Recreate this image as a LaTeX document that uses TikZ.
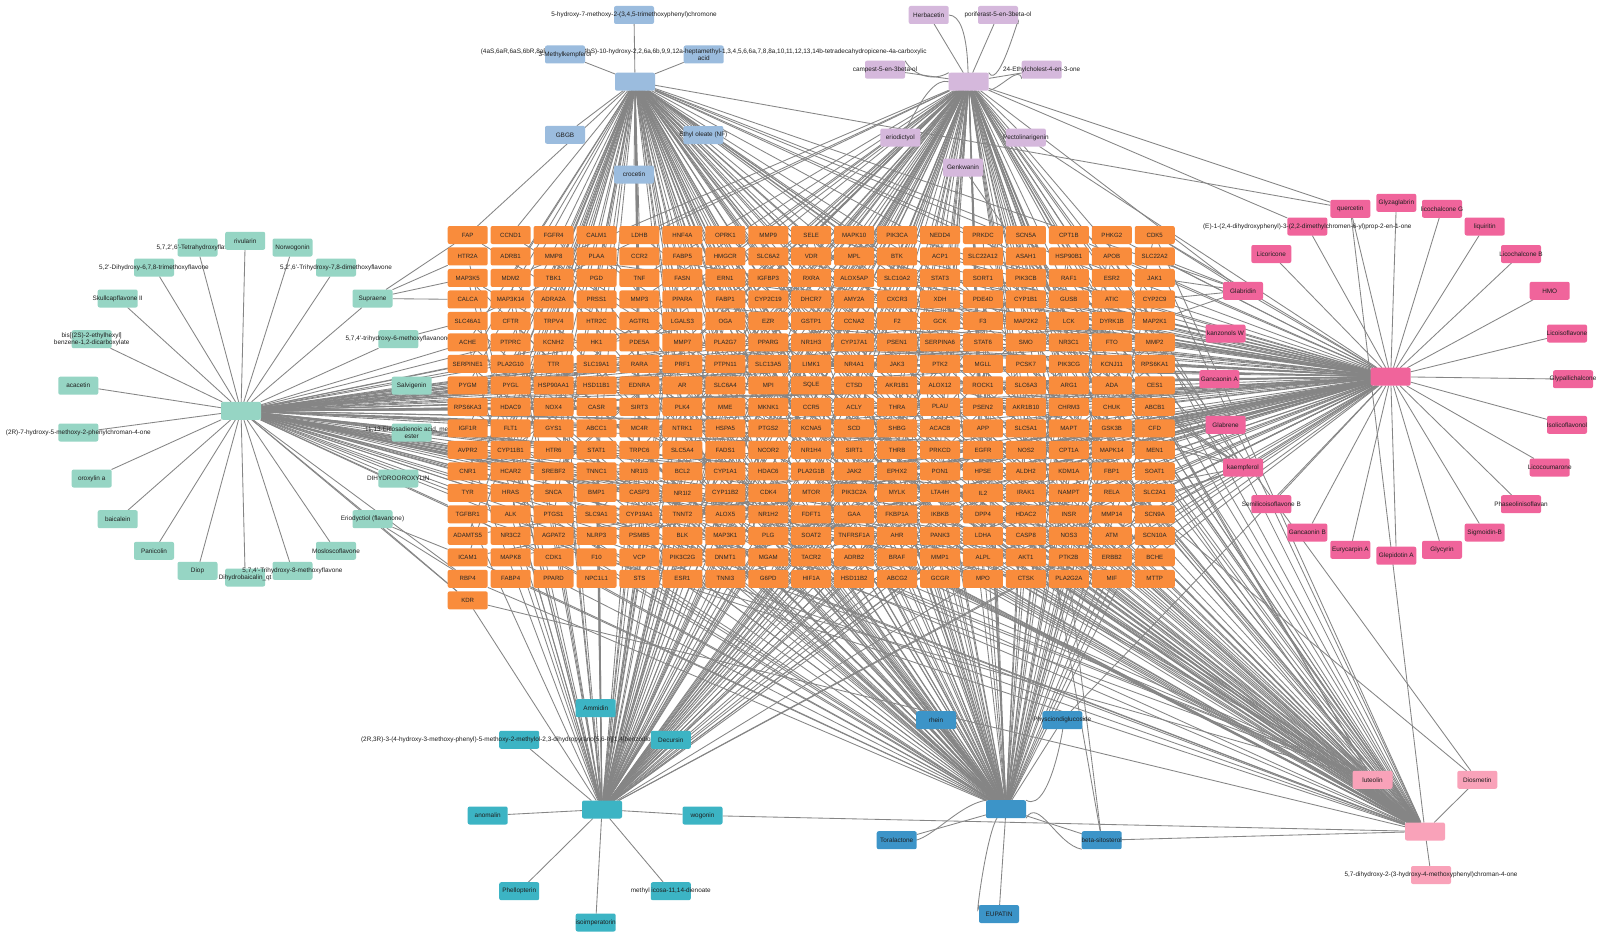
\documentclass[tikz,border=0pt]{standalone}
\usepackage{fontspec}
\setmainfont{Liberation Sans}
\pgfdeclarelayer{edges}
\pgfsetlayers{edges,main}
\definecolor{cOr}{HTML}{F98C3C}
\definecolor{cBlT}{HTML}{9BBCDE}
\definecolor{cPu}{HTML}{D5B8DC}
\definecolor{cGr}{HTML}{96D5C4}
\definecolor{cPk}{HTML}{F0649B}
\definecolor{cTe}{HTML}{3CB4C4}
\definecolor{cBlB}{HTML}{3C94C8}
\definecolor{cLp}{HTML}{F9A2B9}
\definecolor{cEd}{HTML}{858585}
\tikzset{
  bx/.style={draw=none,rounded corners=2pt,minimum width=40pt,minimum height=18pt,inner sep=0pt,outer sep=0pt},
  tx/.style={inner sep=0pt,font=\fontsize{6.4}{7.4}\selectfont,text=black!88,align=center},
  gbx/.style={bx,fill=cOr,font=\fontsize{6.1}{7}\selectfont,text=black!85},
  edge/.style={draw=cEd,line width=0.85pt},
}
\newcommand\cmp[5]{%
  \node[bx,fill=#4] (#1) at (#2,#3) {};
  \node[tx] at (#2,#3) {#5};}
\newcommand\fan[3]{%
  \pgfmathsetseed{#2}%
  \foreach \k in {0,...,289}{%
    \pgfmathtruncatemacro\gRow{(\k+0.5)/17}%
    \pgfmathtruncatemacro\gCol{\k-17*\gRow}%
    \pgfmathtruncatemacro\gOk{(rnd<(#3))?1:0}%
    \ifnum\gOk=1 \draw[edge] (#1) -- (g\k);\fi
  }%
}
\begin{document}
\begin{tikzpicture}[x=1pt,y=-1pt]
\useasboundingbox (0,0) rectangle (1600,942);
\begin{pgfonlayer}{edges}
\fill[white] (0,0) rectangle (1600,942);
\end{pgfonlayer}

% ---------- green cluster ----------
\node[bx,fill=cGr] (hG) at (241,410.8) {};
\cmp{gTe}{197.5}{247.5}{cGr}{5,7,2',6'-Tetrahydroxyflavone}
\cmp{gRi}{245.2}{240.8}{cGr}{rivularin}
\cmp{gNo}{292.5}{247.5}{cGr}{Norwogonin}
\cmp{gDi}{154}{267.5}{cGr}{5,2'-Dihydroxy-6,7,8-trimethoxyflavone}
\cmp{gTr}{336}{267.5}{cGr}{5,2',6'-Trihydroxy-7,8-dimethoxyflavone}
\cmp{gSk}{117.7}{298.5}{cGr}{Skullcapflavone II}
\cmp{gSu}{372.5}{298.5}{cGr}{Supraene}
\cmp{gBi}{91.7}{339.2}{cGr}{bis[(2S)-2-ethylhexyl]\\benzene-1,2-dicarboxylate}
\cmp{gTm}{398.3}{339.2}{cGr}{5,7,4'-trihydroxy-6-methoxyflavanone}
\cmp{gAc}{78.3}{385.7}{cGr}{acacetin}
\cmp{gSa}{411.7}{385.7}{cGr}{Salvigenin}
\cmp{gHm}{78.3}{432.5}{cGr}{(2R)-7-hydroxy-5-methoxy-2-phenylchroman-4-one}
\cmp{gEi}{411.7}{432.5}{cGr}{11,13-Eicosadienoic acid, methyl\\ester}
\cmp{gOr}{91.7}{478.5}{cGr}{oroxylin a}
\cmp{gDh}{398.3}{478.5}{cGr}{DIHYDROOROXYLIN}
\cmp{gBa}{117.7}{519.2}{cGr}{baicalein}
\cmp{gEr}{372.5}{519.2}{cGr}{Eriodyctiol (flavanone)}
\cmp{gPa}{154}{550.8}{cGr}{Panicolin}
\cmp{gMo}{336}{550.8}{cGr}{Mosloscoflavone}
\cmp{gDp}{197.5}{570.8}{cGr}{Diop}
\cmp{gDq}{245.2}{577.5}{cGr}{Dihydrobaicalin\_qt}
\cmp{gTh}{292.5}{570.8}{cGr}{5,7,4'-Trihydroxy-8-methoxyflavone}

% ---------- target grid ----------
\foreach \lab [count=\i from 0] in {
FAP,CCND1,FGFR4,CALM1,LDHB,HNF4A,OPRK1,MMP9,SELE,MAPK10,PIK3CA,NEDD4,PRKDC,SCN5A,CPT1B,PHKG2,CDK5,
HTR2A,ADRB1,MMP8,PLAA,CCR2,FABP5,HMGCR,SLC6A2,VDR,MPL,BTK,ACP1,SLC22A12,ASAH1,HSP90B1,APOB,SLC22A2,
MAP3K5,MDM2,TBK1,PGD,TNF,FASN,ERN1,IGFBP3,RXRA,ALOX5AP,SLC10A2,STAT3,SORT1,PIK3CB,RAF1,ESR2,JAK1,
CALCA,MAP3K14,ADRA2A,PRSS1,MMP3,PPARA,FABP1,CYP2C19,DHCR7,AMY2A,CXCR3,XDH,PDE4D,CYP1B1,GUSB,ATIC,CYP2C9,
SLC46A1,CFTR,TRPV4,HTR2C,AGTR1,LGALS3,OGA,EZR,GSTP1,CCNA2,F2,GCK,F3,MAP2K2,LCK,DYRK1B,MAP2K1,
ACHE,PTPRC,KCNH2,HK1,PDE5A,MMP7,PLA2G7,PPARG,NR1H3,CYP17A1,PSEN1,SERPINA6,STAT6,SMO,NR3C1,FTO,MMP2,
SERPINE1,PLA2G10,TTR,SLC19A1,RARA,PRF1,PTPN11,SLC13A5,LIMK1,NR4A1,JAK3,PTK2,MGLL,PCSK7,PIK3CG,KCNJ11,RPS6KA1,
PYGM,PYGL,HSP90AA1,HSD11B1,EDNRA,AR,SLC6A4,MPI,SQLE,CTSD,AKR1B1,ALOX12,ROCK1,SLC6A3,ARG1,ADA,CES1,
RPS6KA3,HDAC9,NOX4,CASR,SIRT3,PLK4,MME,MKNK1,CCR5,ACLY,THRA,PLAU,PSEN2,AKR1B10,CHRM3,CHUK,ABCB1,
IGF1R,FLT1,GYS1,ABCC1,MC4R,NTRK1,HSPA5,PTGS2,KCNA5,SCD,SHBG,ACACB,APP,SLC5A1,MAPT,GSK3B,CFD,
AVPR2,CYP11B1,HTR6,STAT1,TRPC6,SLC5A4,FADS1,NCOR2,NR1H4,SIRT1,THRB,PRKCD,EGFR,NOS2,CPT1A,MAPK14,MEN1,
CNR1,HCAR2,SREBF2,TNNC1,NR1I3,BCL2,CYP1A1,HDAC6,PLA2G1B,JAK2,EPHX2,PON1,HPSE,ALDH2,KDM1A,FBP1,SOAT1,
TYR,HRAS,SNCA,BMP1,CASP3,NR1I2,CYP11B2,CDK4,MTOR,PIK3C2A,MYLK,LTA4H,IL2,IRAK1,NAMPT,RELA,SLC2A1,
TGFBR1,ALK,PTGS1,SLC9A1,CYP19A1,TNNT2,ALOX5,NR1H2,FDFT1,GAA,FKBP1A,IKBKB,DPP4,HDAC2,INSR,MMP14,SCN9A,
ADAMTS5,NR3C2,AGPAT2,NLRP3,PSMB5,BLK,MAP3K1,PLG,SOAT2,TNFRSF1A,AHR,PANK3,LDHA,CASP8,NOS3,ATM,SCN10A,
ICAM1,MAPK8,CDK1,F10,VCP,PIK3C2G,DNMT1,MGAM,TACR2,ADRB2,BRAF,MMP1,ALPL,AKT1,PTK2B,ERBB2,BCHE,
RBP4,FABP4,PPARD,NPC1L1,STS,ESR1,TNNI3,G6PD,HIF1A,HSD11B2,ABCG2,GCGR,MPO,CTSK,PLA2G2A,MIF,MTTP,
KDR}{%
  \pgfmathtruncatemacro\gr{(\i+0.5)/17}%
  \pgfmathtruncatemacro\gc{\i-17*\gr}%
  \node[gbx] (g\i) at ({467.7+\gc*42.94},{235+\gr*21.49}) {\lab};
}

% ---------- blue top cluster ----------
\node[bx,fill=cBlT] (hB) at (635,81.7) {};
\cmp{bA}{634}{15}{cBlT}{5-hydroxy-7-methoxy-2-(3,4,5-trimethoxyphenyl)chromone}
\cmp{bOA}{703.7}{54.5}{cBlT}{(4aS,6aR,6aS,6bR,8aR,10S,12aR,14bS)-10-hydroxy-2,2,6a,6b,9,9,12a-heptamethyl-1,3,4,5,6,6a,7,8,8a,10,11,12,13,14b-tetradecahydropicene-4a-carboxylic\\acid}
\cmp{bMK}{565}{54.5}{cBlT}{3-Methylkempferol}
\cmp{bGB}{565}{134.8}{cBlT}{GBGB}
\cmp{bEO}{703.3}{135}{cBlT}{Ethyl oleate (NF)}
\cmp{bCr}{634}{174.5}{cBlT}{crocetin}

% ---------- purple cluster ----------
\node[bx,fill=cPu] (hP) at (968.7,81.7) {};
\cmp{pHe}{928.7}{15}{cPu}{Herbacetin}
\cmp{pPo}{998}{15}{cPu}{poriferast-5-en-3beta-ol}
\cmp{pCa}{885}{69.7}{cPu}{campest-5-en-3beta-ol}
\cmp{pEt}{1041.7}{69.7}{cPu}{24-Ethylcholest-4-en-3-one}
\cmp{pEr}{900.3}{137.5}{cPu}{eriodictyol}
\cmp{pPe}{1025.8}{137.5}{cPu}{Pectolinarigenin}
\cmp{pGe}{963}{167.5}{cPu}{Genkwanin}

% ---------- pink cluster ----------
\node[bx,fill=cPk] (hK) at (1390.7,376.7) {};
\cmp{kQu}{1350.3}{208.8}{cPk}{quercetin}
\cmp{kGz}{1396.3}{202.8}{cPk}{Glyzaglabrin}
\cmp{kLG}{1442}{208.8}{cPk}{licochalcone G}
\cmp{kE1}{1307.3}{226.5}{cPk}{(E)-1-(2,4-dihydroxyphenyl)-3-(2,2-dimethylchromen-6-yl)prop-2-en-1-one}
\cmp{kLq}{1484.7}{226.5}{cPk}{liquiritin}
\cmp{kLr}{1271.3}{254}{cPk}{Licoricone}
\cmp{kLB}{1521}{254}{cPk}{Licochalcone B}
\cmp{kGd}{1243}{290.8}{cPk}{Glabridin}
\cmp{kHM}{1549.7}{290.8}{cPk}{HMO}
\cmp{kKW}{1225.5}{333.5}{cPk}{kanzonols W}
\cmp{kLi}{1567}{333.5}{cPk}{Licoisoflavone}
\cmp{kGA}{1219.3}{379.2}{cPk}{Gancaonin A}
\cmp{kGy}{1573}{379.2}{cPk}{Glypallichalcone}
\cmp{kGb}{1225.5}{424.8}{cPk}{Glabrene}
\cmp{kIs}{1567}{424.8}{cPk}{Isolicoflavonol}
\cmp{kKa}{1243}{467.5}{cPk}{kaempferol}
\cmp{kLc}{1549.7}{467.5}{cPk}{Licocoumarone}
\cmp{kSB}{1271.3}{504.2}{cPk}{Semilicoisoflavone B}
\cmp{kPh}{1521}{504.2}{cPk}{Phaseolinisoflavan}
\cmp{kGB}{1307.3}{532.5}{cPk}{Gancaonin B}
\cmp{kSi}{1484.7}{532.5}{cPk}{Sigmoidin-B}
\cmp{kEu}{1350.3}{549.8}{cPk}{Eurycarpin A}
\cmp{kGc}{1442}{549.8}{cPk}{Glycyrin}
\cmp{kGp}{1396.3}{555.7}{cPk}{Glepidotin A}

% ---------- teal cluster ----------
\node[bx,fill=cTe] (hT) at (602,809.5) {};
\cmp{tLg}{519.2}{739.8}{cTe}{(2R,3R)-3-(4-hydroxy-3-methoxy-phenyl)-5-methoxy-2-methylol-2,3-dihydropyrano[5,6-h][1,4]benzodioxin-7-one}
\cmp{tAm}{595.7}{708.2}{cTe}{Ammidin}
\cmp{tDe}{670.8}{739.8}{cTe}{Decursin}
\cmp{tAn}{487.7}{815.5}{cTe}{anomalin}
\cmp{tWo}{702.5}{815.5}{cTe}{wogonin}
\cmp{tPh}{519.2}{891.2}{cTe}{Phellopterin}
\cmp{tMe}{670.8}{891.2}{cTe}{methyl icosa-11,14-dienoate}
\cmp{tIs}{595.7}{922.5}{cTe}{isoimperatorin}

% ---------- blue bottom cluster ----------
\node[bx,fill=cBlB] (hD) at (1006,809.2) {};
\cmp{dRh}{936}{720.2}{cBlB}{rhein}
\cmp{dPh}{1062.3}{720.2}{cBlB}{Physciondiglucoside}
\cmp{dTo}{896.7}{840.2}{cBlB}{Toralactone}
\cmp{dBs}{1101.7}{840.2}{cBlB}{beta-sitosterol}
\cmp{dEu}{999}{914}{cBlB}{EUPATIN}

% ---------- light pink cluster ----------
\node[bx,fill=cLp] (hL) at (1425,831.5) {};
\cmp{lLu}{1372.5}{779.8}{cLp}{luteolin}
\cmp{lDi}{1477.3}{779.8}{cLp}{Diosmetin}
\cmp{lDh}{1431}{875}{cLp}{5,7-dihydroxy-2-(3-hydroxy-4-methoxyphenyl)chroman-4-one}

% ---------- edges ----------
\begin{pgfonlayer}{edges}
\foreach \n in {gTe,gRi,gNo,gDi,gTr,gSk,gSu,gBi,gTm,gAc,gSa,gHm,gEi,gOr,gDh,gBa,gEr,gPa,gMo,gDp,gDq,gTh}
  \draw[edge] (hG) -- (\n);
\foreach \n in {bA,bOA,bMK,bGB,bEO,bCr} \draw[edge] (hB) -- (\n);
\foreach \n in {pHe,pPo,pCa,pEt,pEr,pPe,pGe} \draw[edge] (hP) -- (\n);
\foreach \n in {kQu,kGz,kLG,kE1,kLq,kLr,kLB,kGd,kHM,kKW,kLi,kGA,kGy,kGb,kIs,kKa,kLc,kSB,kPh,kGB,kSi,kEu,kGc,kGp}
  \draw[edge] (hK) -- (\n);
\foreach \n in {tAm,tLg,tDe,tAn,tWo,tPh,tMe,tIs} \draw[edge] (hT) -- (\n);
\foreach \n in {dRh,dPh,dTo,dBs,dEu} \draw[edge] (hD) -- (\n);
\foreach \n in {lLu,lDi,lDh} \draw[edge] (hL) -- (\n);

% hub fans into the target grid
\fan{hG}{11}{(\gRow>=4)*0.38}
\fan{hB}{23}{(\gCol<=10)*0.42+(\gCol>10)*0.16}
\fan{hP}{37}{(\gCol>=4)*0.40+(\gCol<4)*0.18}
\fan{hK}{41}{(\gCol>=6)*0.46+(\gCol<6)*0.18}
\fan{hT}{53}{(\gCol<=11)*0.38+(\gCol>11)*0.15}
\fan{hD}{67}{0.38}
\fan{hL}{79}{(\gCol>=5)*0.36+(\gCol<5)*0.14}
\fan{lLu}{83}{(\gRow>=6)*(\gCol>=3)*0.10}
\fan{kKa}{97}{(\gCol>=11)*0.12}

% compound-to-target and shared compounds
\foreach \a/\b in {gSu/g0,gSu/g17,gSu/g34,gSu/g51,gTm/g68,
  gEr/g289,gEr/g272,gEr/g255,
  kGd/g16,kGd/g33,kGd/g50,kGd/g67,kGd/g84,
  hB/kQu,hP/kQu,hL/kQu,hB/kGd,hP/kGd,hB/kKa,hP/kKa,hL/kKa,hP/kE1,
  hP/lDi,hB/lDi,tWo/hL,dBs/hL,dBs/hP,dBs/g13,pPe/hK,pGe/hL,dPh/hK,lLu/hP}
  \draw[edge] (\a) -- (\b);

% curved (double) edges
\draw[edge] (pHe.east) to[out=0,in=-95] (hP.north);
\draw[edge] (pPo.south east) to[out=80,in=-60] (hP.north east);
\draw[edge] (pCa.north east) to[out=-60,in=-150] (hP.north west);
\draw[edge] (pEt.south west) to[out=100,in=15] (hP.south east);
\draw[edge] (pEr.north) to[out=-90,in=165] (hP.west);
\draw[edge] (dTo.north) to[out=-60,in=-170] (hD.north west);
\draw[edge] (dEu.north west) to[out=-100,in=115] (hD.south);
\draw[edge] (dBs.south west) to[out=170,in=60] (hD.south east);
\draw[edge] (dPh.south) to[out=80,in=-30] (hD.north east);
\end{pgfonlayer}
\end{tikzpicture}
\end{document}
